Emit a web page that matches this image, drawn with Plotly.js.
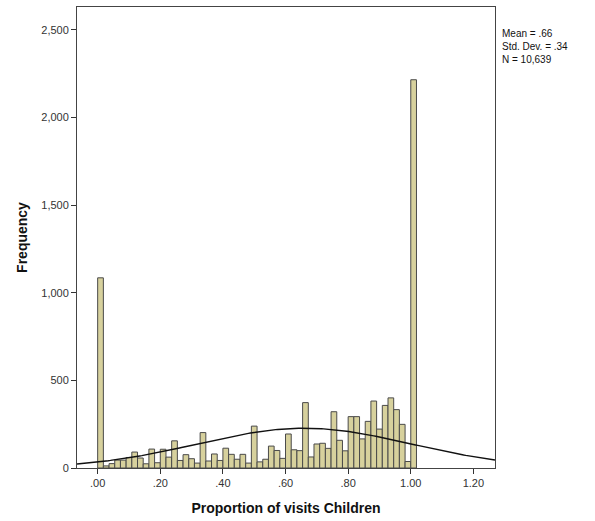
<!DOCTYPE html>
<html>
<head>
<meta charset="utf-8">
<script src="https://cdn.plot.ly/plotly-3.0.1.min.js"></script>
<style>html,body{margin:0;padding:0;background:#fff;}#chart{width:595px;height:521px;}</style>
</head>
<body>
<div id="chart"></div>
<script>
// Histogram counts, bins of width 1/55 starting at 0 (last bin starts at 1.00)
const binWidth = 1 / 55;
const counts = [1085, 12, 25, 45, 45, 60, 91, 57, 24, 108, 30, 107, 62, 155, 43, 76, 53, 28, 202, 40,
  80, 43, 113, 78, 50, 78, 28, 239, 35, 50, 125, 100, 55, 194, 104, 99, 373, 63, 137, 141,
  112, 321, 158, 98, 293, 293, 166, 266, 382, 222, 357, 400, 333, 249, 37, 2215];
// Reported statistics (normal curve overlay)
const statMean = 0.66;
const statSD = 0.34;
const statN = 10639;
const xTickVals = [0, 0.2, 0.4, 0.6, 0.8, 1.0, 1.2];
const xTickText = ['.00', '.20', '.40', '.60', '.80', '1.00', '1.20'];
const yTickVals = [0, 500, 1000, 1500, 2000, 2500];
const xRange = [-0.066, 1.269];

const binCenters = counts.map((_, k) => (k + 0.5) * binWidth);

// normal curve scaled to counts
const curveX = [], curveY = [];
for (let i = 0; i <= 200; i++) {
  const x = xRange[0] + (xRange[1] - xRange[0]) * i / 200;
  const z = (x - statMean) / statSD;
  curveX.push(x);
  curveY.push(statN * binWidth / (statSD * Math.sqrt(2 * Math.PI)) * Math.exp(-0.5 * z * z));
}

const traces = [
  {
    type: 'bar', x: binCenters, y: counts, width: binWidth,
    marker: {color: '#d7d19d', line: {color: '#4a4a4a', width: 1}},
    hoverinfo: 'skip'
  },
  {
    type: 'scatter', mode: 'lines', x: curveX, y: curveY,
    line: {color: '#111111', width: 1.4}, hoverinfo: 'skip'
  }
];

const layout = {
  width: 595, height: 521,
  margin: {l: 77, r: 100, t: 7, b: 53},
  paper_bgcolor: '#ffffff', plot_bgcolor: '#ffffff',
  showlegend: false,
  bargap: 0,
  font: {family: 'Liberation Sans, Arial, sans-serif', size: 11, color: '#333333'},
  xaxis: {
    range: xRange, tickvals: xTickVals, ticktext: xTickText,
    ticks: 'outside', ticklen: 5, tickcolor: '#333', showgrid: false, zeroline: false,
    showline: true, linecolor: '#444', linewidth: 1, mirror: true,
    tickfont: {size: 11, color: '#333'},
    title: {text: '<b>Proportion of visits Children</b>', font: {size: 14, color: '#111'}, standoff: 14}
  },
  yaxis: {
    range: [0, 2630], tickvals: yTickVals, tickformat: ',',
    ticks: 'outside', ticklen: 5, tickcolor: '#333', showgrid: false, zeroline: false,
    showline: true, linecolor: '#444', linewidth: 1, mirror: true,
    tickfont: {size: 11, color: '#333'},
    title: {text: '<b>Frequency</b>', font: {size: 14, color: '#111'}, standoff: 10}
  },
  annotations: [{
    xref: 'paper', yref: 'paper', x: 1.012, y: 0.958, xanchor: 'left', yanchor: 'top',
    align: 'left', showarrow: false,
    text: 'Mean = .66<br>Std. Dev. = .34<br>N = 10,639',
    font: {size: 10, color: '#111'}
  }]
};

Plotly.newPlot('chart', traces, layout, {displayModeBar: false, staticPlot: true});
</script>
</body>
</html>
